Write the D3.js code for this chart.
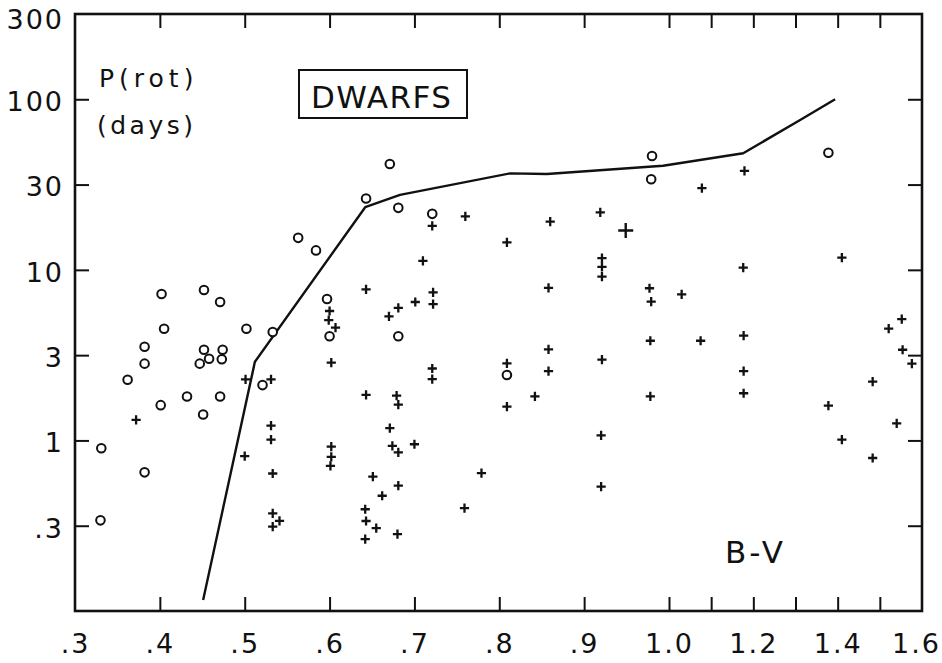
<!DOCTYPE html>
<html>
<head>
<meta charset="utf-8">
<script src="https://cdn.jsdelivr.net/npm/d3@7"></script>
<style>
  body { margin: 0; background: #fff; }
  svg text { font-family: "DejaVu Sans", sans-serif; fill: #111; }
</style>
</head>
<body>
<script>
// B-V colour index vs rotation period (days), dwarf stars

// open circles
const circleBV = [0.330, 0.331, 0.362, 0.382, 0.382, 0.382, 0.401, 0.402, 0.405, 0.432,
  0.447, 0.451, 0.452, 0.452, 0.458, 0.471, 0.471, 0.473, 0.474, 0.502,
  0.521, 0.533, 0.563, 0.584, 0.597, 0.600, 0.643, 0.671, 0.681, 0.681,
  0.721, 0.809, 0.980, 0.979, 1.378];
const circleP = [0.34, 0.90, 2.27, 0.65, 2.82, 3.54, 1.61, 7.22, 4.52, 1.81,
  2.82, 1.42, 3.40, 7.62, 3.01, 6.48, 1.81, 2.99, 3.40, 4.52,
  2.11, 4.32, 15.4, 13.0, 6.75, 4.08, 26.2, 41.7, 23.1, 4.08,
  21.3, 2.42, 46.5, 34.0, 48.6];

// crosses
const crossBV = [0.372, 0.501, 0.500, 0.531, 0.531, 0.531, 0.533, 0.533, 0.541, 0.533,
  0.600, 0.599, 0.607, 0.602, 0.602, 0.602, 0.601, 0.643, 0.643, 0.642,
  0.643, 0.655, 0.642, 0.651, 0.662, 0.670, 0.681, 0.701, 0.722, 0.722,
  0.710, 0.721, 0.760, 0.671, 0.674, 0.681, 0.700, 0.679, 0.681, 0.681,
  0.680, 0.721, 0.721, 0.759, 0.779, 0.809, 0.809, 0.809, 0.842, 0.858,
  0.858, 0.858, 0.860, 0.919, 0.921, 0.921, 0.921, 0.921, 0.920, 0.920,
  0.977, 0.979, 0.978, 0.978, 1.030, 1.075, 1.078, 1.177, 1.177, 1.177,
  1.179, 1.176, 1.378, 1.410, 1.410, 1.483, 1.483, 1.521, 1.552, 1.554,
  1.576, 1.540];
const crossP = [1.32, 2.28, 0.81, 2.28, 1.22, 1.01, 0.64, 0.374, 0.338, 0.312,
  5.74, 5.08, 4.58, 2.86, 0.92, 0.80, 0.71, 7.69, 1.85, 0.395,
  0.337, 0.306, 0.264, 0.613, 0.474, 5.34, 5.98, 6.48, 7.37, 6.29,
  11.3, 18.1, 20.6, 1.18, 0.93, 0.85, 0.95, 1.83, 1.62, 0.544,
  0.282, 2.64, 2.29, 0.401, 0.644, 14.5, 2.83, 1.58, 1.81, 3.42,
  2.55, 7.83, 19.2, 21.7, 11.7, 10.4, 9.12, 2.98, 1.07, 0.536,
  7.80, 6.51, 3.84, 1.81, 7.19, 3.84, 30.1, 4.11, 2.55, 1.89,
  38.0, 10.3, 1.60, 11.8, 1.01, 2.21, 0.789, 4.52, 5.14, 3.40,
  2.82, 1.26];

// the one large cross
const bigCrossBV = [0.949];
const bigCrossP = [17.0];

// boundary curve
const curveBV = [0.451, 0.512, 0.642, 0.683, 0.813, 0.856, 0.993, 1.176, 1.311, 1.394];
const curveP = [0.116, 2.89, 23.3, 27.5, 36.8, 36.5, 40.8, 48.3, 75.6, 100];

// axes
const xTickValues = [0.4, 0.5, 0.6, 0.7, 0.8, 0.9, 1.0, 1.1, 1.2, 1.3, 1.4, 1.5];
const xLabelValues = [0.3, 0.4, 0.5, 0.6, 0.7, 0.8, 0.9, 1.0, 1.2, 1.4, 1.6];
const xLabels = [".3", ".4", ".5", ".6", ".7", ".8", ".9", "1.0", "1.2", "1.4", "1.6"];
const yTickValues = [0.3162, 1, 3.162, 10, 31.62, 100, 316.2];
const yLabels = [".3", "1", "3", "10", "30", "100", "300"];

const width = 942;
const height = 663;

const svg = d3.select('body').append('svg')
  .attr('width', width)
  .attr('height', height)
  .attr('viewBox', `0 0 ${width} ${height}`);

// the B-V axis is compressed by half above 1.0
const x = d3.scaleLinear().domain([0.3, 1.0, 1.6]).range([75, 669, 922]);
const y = d3.scaleLog().domain([0.1, 316.2]).range([611, 14]);

const ink = '#111';

// ticks, all pointing inward
const tick = 14;
svg.append('g')
  .attr('transform', `translate(0,${y.range()[0]})`)
  .call(d3.axisBottom(x).tickValues(xTickValues).tickSize(-tick).tickSizeOuter(0).tickFormat(''))
  .call(g => g.select('.domain').remove());
svg.append('g')
  .attr('transform', `translate(0,${y.range()[1]})`)
  .call(d3.axisTop(x).tickValues(xTickValues).tickSize(-tick).tickSizeOuter(0).tickFormat(''))
  .call(g => g.select('.domain').remove());
svg.append('g')
  .attr('transform', `translate(${x.range()[0]},0)`)
  .call(d3.axisLeft(y).tickValues(yTickValues.slice(0, -1)).tickSize(-tick).tickSizeOuter(0).tickFormat(''))
  .call(g => g.select('.domain').remove());
svg.append('g')
  .attr('transform', `translate(${x.range()[2]},0)`)
  .call(d3.axisRight(y).tickValues(yTickValues.slice(0, -1)).tickSize(-tick).tickSizeOuter(0).tickFormat(''))
  .call(g => g.select('.domain').remove());

svg.selectAll('.tick line')
  .attr('stroke', ink)
  .attr('stroke-width', 2);

// tick labels
const xLab = svg.append('g')
  .attr('transform', `translate(0,${y.range()[0]})`)
  .call(d3.axisBottom(x).tickValues(xLabelValues).tickSize(0).tickPadding(23)
    .tickFormat((d, i) => xLabels[i]));
xLab.select('.domain').remove();
xLab.selectAll('text')
  .attr('font-size', 27)
  .attr('letter-spacing', 2)
  .attr('fill', ink);
xLab.selectAll('.tick').filter(d => d === 1.6).select('text').attr('dx', -6);

const yLab = svg.append('g')
  .attr('transform', `translate(${x.range()[0]},0)`)
  .call(d3.axisLeft(y).tickValues(yTickValues).tickSize(0).tickPadding(11)
    .tickFormat((d, i) => yLabels[i]));
yLab.select('.domain').remove();
yLab.selectAll('text')
  .attr('font-size', 27)
  .attr('letter-spacing', 2)
  .attr('dy', '0.42em')
  .attr('fill', ink);
yLab.selectAll('.tick').filter(d => d === 316.2).select('text').attr('dy', '0.55em');

// frame
svg.append('rect')
  .attr('x', x.range()[0])
  .attr('y', y.range()[1])
  .attr('width', x.range()[2] - x.range()[0])
  .attr('height', y.range()[0] - y.range()[1])
  .attr('fill', 'none')
  .attr('stroke', ink)
  .attr('stroke-width', 2.6);

// boundary curve
const curve = curveBV.map((d, i) => [d, curveP[i]]);
svg.append('path')
  .datum(curve)
  .attr('d', d3.line().x(d => x(d[0])).y(d => y(d[1])))
  .attr('fill', 'none')
  .attr('stroke', ink)
  .attr('stroke-width', 2.4)
  .attr('stroke-linejoin', 'round');

// crosses
const plus = s => `M${-s},0H${s}M0,${-s}V${s}`;
const crosses = crossBV.map((d, i) => [d, crossP[i]]);
svg.append('g')
  .selectAll('path')
  .data(crosses)
  .enter()
  .append('path')
  .attr('transform', d => `translate(${x(d[0])},${y(d[1])})`)
  .attr('d', plus(4.6))
  .attr('stroke', ink)
  .attr('stroke-width', 2.3);

svg.append('g')
  .selectAll('path')
  .data(bigCrossBV.map((d, i) => [d, bigCrossP[i]]))
  .enter()
  .append('path')
  .attr('transform', d => `translate(${x(d[0])},${y(d[1])})`)
  .attr('d', plus(7.5))
  .attr('stroke', ink)
  .attr('stroke-width', 2.4);

// circles
const circles = circleBV.map((d, i) => [d, circleP[i]]);
svg.append('g')
  .selectAll('circle')
  .data(circles)
  .enter()
  .append('circle')
  .attr('cx', d => x(d[0]))
  .attr('cy', d => y(d[1]))
  .attr('r', 4.3)
  .attr('fill', '#fff')
  .attr('stroke', ink)
  .attr('stroke-width', 2);

// annotations
svg.append('text')
  .attr('x', 99).attr('y', 87)
  .attr('font-size', 25)
  .attr('letter-spacing', 5)
  .text('P(rot)');
svg.append('text')
  .attr('x', 97).attr('y', 134)
  .attr('font-size', 25)
  .attr('letter-spacing', 3.5)
  .text('(days)');

svg.append('rect')
  .attr('x', 299).attr('y', 70)
  .attr('width', 168).attr('height', 48)
  .attr('fill', 'none')
  .attr('stroke', ink)
  .attr('stroke-width', 2);
svg.append('text')
  .attr('x', 311).attr('y', 108)
  .attr('font-size', 31)
  .attr('letter-spacing', 1.5)
  .text('DWARFS');

svg.append('text')
  .attr('x', 725).attr('y', 563)
  .attr('font-size', 31)
  .attr('letter-spacing', 3)
  .text('B-V');
</script>
</body>
</html>
